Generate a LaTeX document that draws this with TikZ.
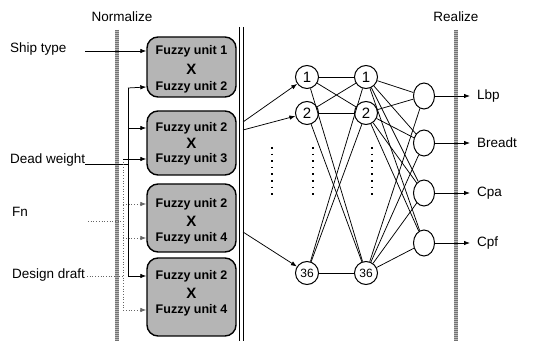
\documentclass[tikz,border=0pt]{standalone}
\usepackage{fontspec}
\setmainfont{Liberation Sans}
\usetikzlibrary{arrows.meta,shapes.geometric}
\begin{document}
\begin{tikzpicture}[x=1pt,y=-1pt,
  lbl/.style={font=\fontsize{13.5}{15}\selectfont, inner sep=0},
  unitbox/.style={draw, line width=1.4pt, rounded corners=11pt, fill=gray!58, minimum width=89pt},
  unittxt/.style={font=\bfseries\fontsize{12.5}{13}\selectfont, inner sep=0},
  crosstxt/.style={font=\bfseries\fontsize{15}{15}\selectfont, inner sep=0},
  neuron/.style={draw, line width=1pt, ellipse, minimum width=23pt, minimum height=23pt, inner sep=0, font=\fontsize{15}{15}\selectfont},
  outneuron/.style={draw, line width=1pt, ellipse, minimum width=21pt, minimum height=26pt, inner sep=0},
  arr/.style={-{Latex[length=6pt,width=4.5pt]}, line width=0.75pt},
  darr/.style={arr, dotted, gray!80!black},
  band/.style={line width=3.2pt, gray!55},
  bandgrain/.style={line width=3.2pt, gray!90!black, dash pattern=on 0.6pt off 1.4pt},
  link/.style={line width=0.75pt},
  vdots/.style={line width=1.6pt, dash pattern=on 1.6pt off 5pt}
]
\useasboundingbox (0,0) rectangle (533,344);

% headings and separating bands
\node[lbl] (norm) at (122,17) {Normalize};
\node[lbl] (real) at (456,17) {Realize};
\draw[band] (117,30) -- (117,341);
\draw[bandgrain] (117,30) -- (117,341);
\draw[band] (456,30) -- (456,341);
\draw[bandgrain] (456,30) -- (456,341);
\draw[line width=0.9pt] (239,27) -- (239,341);
\draw[line width=0.9pt] (243,27) -- (243,341);

% fuzzy unit boxes
\node[unitbox, minimum height=60pt] (b1) at (191.5,67) {};
\node[unitbox, minimum height=64pt] (b2) at (191.5,143) {};
\node[unitbox, minimum height=68pt] (b3) at (191.5,218) {};
\node[unitbox, minimum height=78pt] (b4) at (191.5,297) {};

\node[unittxt] (b1a) at (191.5,51) {Fuzzy unit 1};
\node[crosstxt] (b1x) at (191.5,69) {X};
\node[unittxt] (b1b) at (191.5,87) {Fuzzy unit 2};
\node[unittxt] (b2a) at (191.5,128) {Fuzzy unit 2};
\node[crosstxt] (b2x) at (191.5,143) {X};
\node[unittxt] (b2b) at (191.5,159) {Fuzzy unit 3};
\node[unittxt] (b3a) at (191.5,204) {Fuzzy unit 2};
\node[crosstxt] (b3x) at (191.5,221) {X};
\node[unittxt] (b3b) at (191.5,238) {Fuzzy unit 4};
\node[unittxt] (b4a) at (191.5,276) {Fuzzy unit 2};
\node[crosstxt] (b4x) at (191.5,293) {X};
\node[unittxt] (b4b) at (191.5,310) {Fuzzy unit 4};

% input labels
\node[lbl, anchor=west] (ship) at (10,49) {Ship type};
\node[lbl, anchor=west] (dead) at (10,160) {Dead weight};
\node[lbl, anchor=west] (fn) at (12,212) {Fn};
\node[lbl, anchor=west] (draft) at (12,275) {Design draft};

\coordinate (shipS) at (85,51);
\coordinate (deadS) at (85,164);
\coordinate (fnS) at (88,221);
\coordinate (draftS) at (87,276);

% dead weight trunk
\coordinate (dT) at (128,88);
\coordinate (dM) at (128,128);
\coordinate (dJ) at (128,164);
\coordinate (dB) at (128,276);
% Fn / design draft trunk
\coordinate (fT) at (123,159);
\coordinate (fJ) at (123,221);
\coordinate (f1) at (123,204);
\coordinate (f2) at (123,238);
\coordinate (fB) at (123,310);
\coordinate (gJ) at (123,276);

\draw[arr] (shipS) -- (b1.west |- b1a);
\draw[line width=0.75pt] (deadS) -- (dJ);
\draw[line width=0.75pt] (dT) -- (dB);
\draw[arr] (dT) -- (b1.west |- b1b);
\draw[arr] (dM) -- (b2.west |- b2a);
\draw[arr] (dB) -- (b4.west |- b4a);

\draw[dotted, gray!80!black, line width=0.7pt] (fnS) -- (fJ);
\draw[dotted, gray!80!black, line width=0.7pt] (draftS) -- (gJ);
\draw[dotted, gray!80!black, line width=0.7pt] (fT) -- (fB);
\draw[arr] (fT) -- (b2.west |- b2b);
\draw[darr] (f1) -- (b3.west |- b3a);
\draw[darr] (f2) -- (b3.west |- b3b);
\draw[darr] (fB) -- (b4.west |- b4b);

% network layers
\node[neuron] (a1) at (307,77) {1};
\node[neuron] (a2) at (307,113) {2};
\node[neuron, font=\fontsize{12}{12}\selectfont] (a36) at (307,273) {36};
\node[neuron] (c1) at (366,77) {1};
\node[neuron] (c2) at (366,113) {2};
\node[neuron, font=\fontsize{12}{12}\selectfont] (c36) at (366,273) {36};

\node[outneuron] (o1) at (424,96) {};
\node[outneuron] (o2) at (424,143) {};
\node[outneuron] (o3) at (424,193) {};
\node[outneuron] (o4) at (424,243) {};

% box outputs into the first layer
\coordinate (s1) at (243,122);
\coordinate (s2) at (243,130);
\coordinate (s3) at (243,232);
\draw[arr] (s1) -- (a1);
\draw[arr] (s2) -- (a2);
\draw[arr] (s3) -- (a36);

% full connections
\foreach \p in {a1,a2,a36}
  \foreach \q in {c1,c2,c36}
    \draw[link] (\p) -- (\q);
\foreach \p in {c1,c2,c36}
  \foreach \q in {o1,o2,o3,o4}
    \draw[link] (\p) -- (\q);

% omitted units
\draw[vdots] (272,147) -- (272,196);
\draw[vdots] (313,147) -- (313,196);
\draw[vdots] (372,147) -- (372,196);

% outputs
\coordinate (t1) at (470,96);
\coordinate (t2) at (470,143);
\coordinate (t3) at (470,193);
\coordinate (t4) at (470,243);
\draw[arr] (o1) -- (t1);
\draw[arr] (o2) -- (t2);
\draw[arr] (o3) -- (t3);
\draw[arr] (o4) -- (t4);
\node[lbl, anchor=west] (lbp) at (477,96) {Lbp};
\node[lbl, anchor=west] (brd) at (477,143) {Breadt};
\node[lbl, anchor=west] (cpa) at (477,193) {Cpa};
\node[lbl, anchor=west] (cpf) at (477,243) {Cpf};
\end{tikzpicture}
\end{document}
